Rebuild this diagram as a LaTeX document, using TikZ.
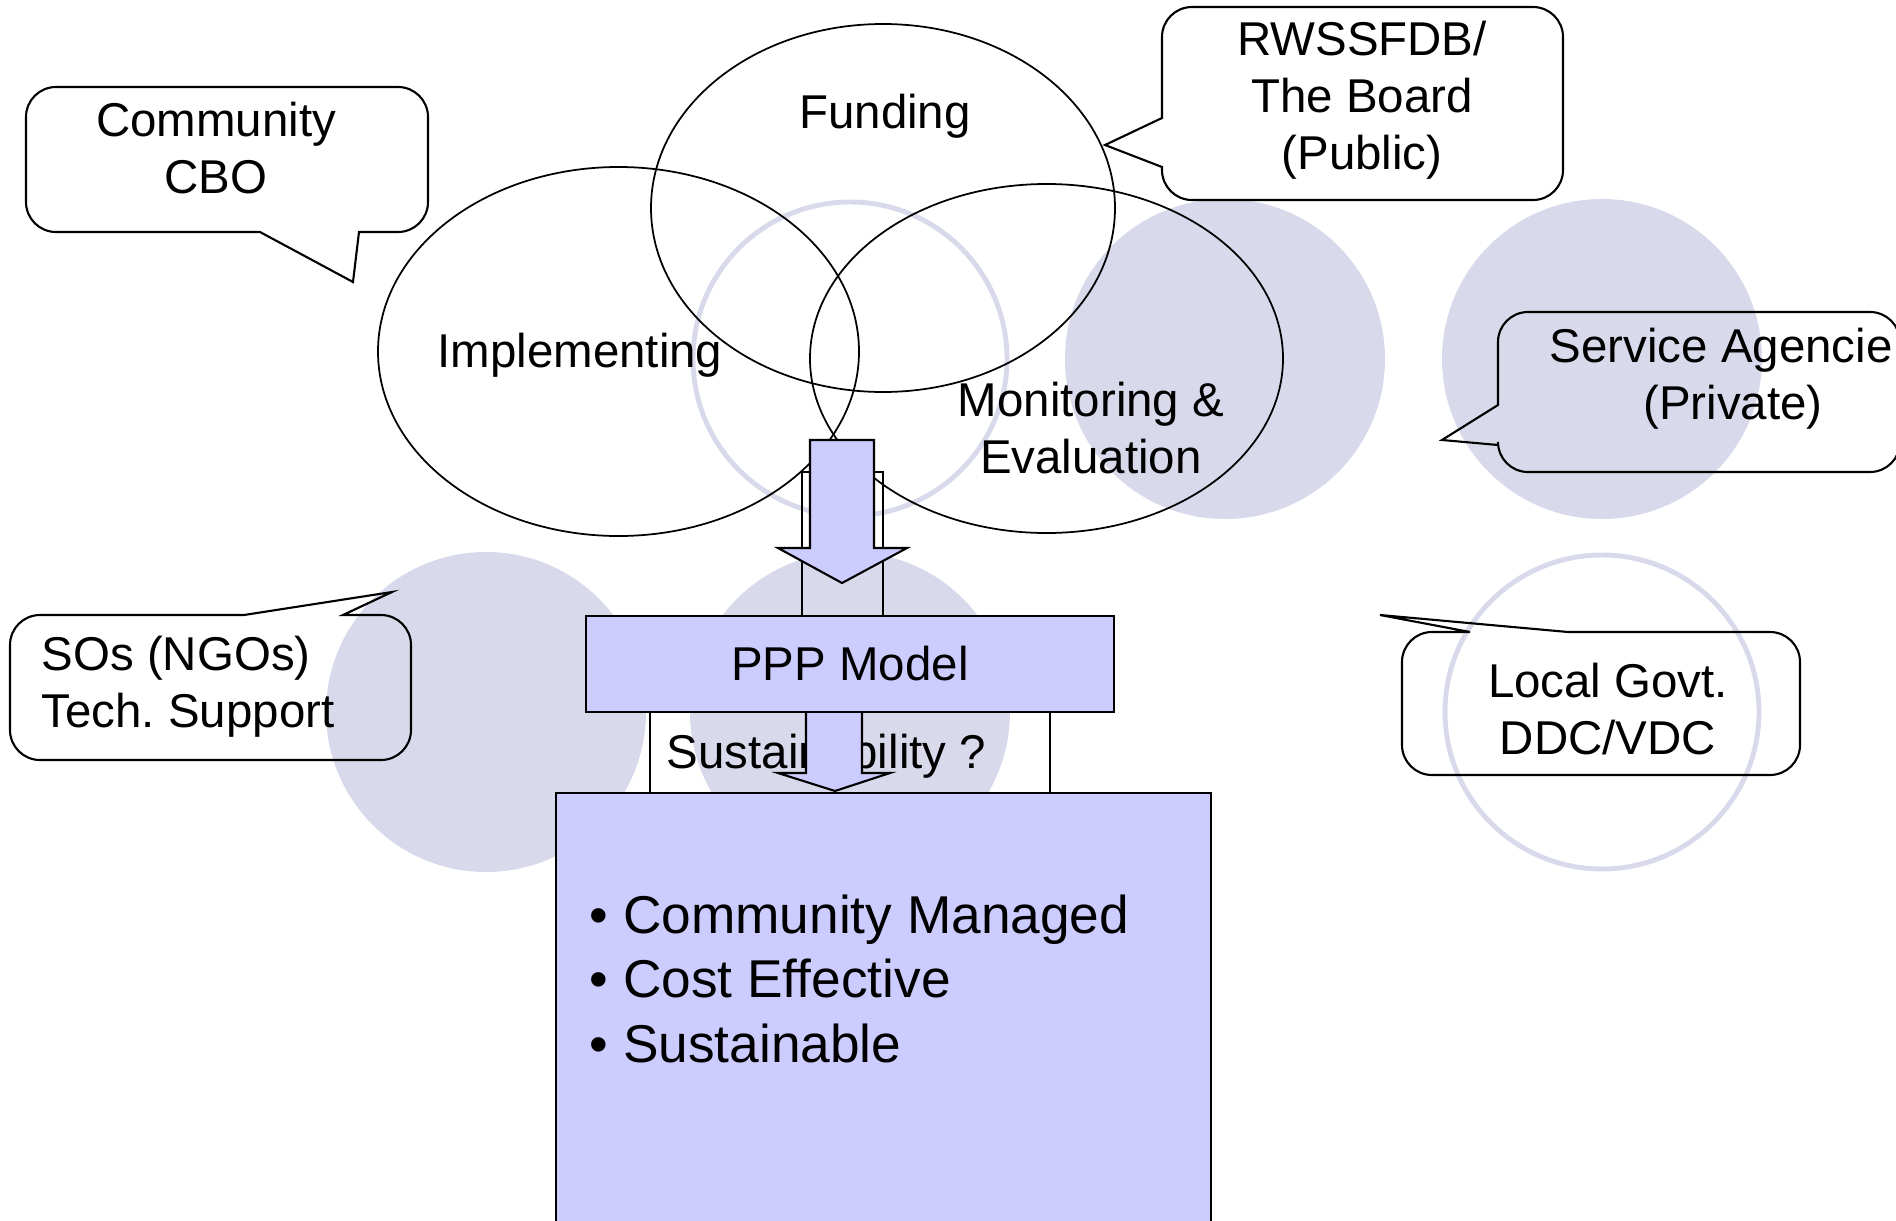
\documentclass[tikz,border=0pt]{standalone}
\usepackage{fontspec}
\setmainfont{Liberation Sans}
\frenchspacing
\definecolor{ringblue}{RGB}{217,217,236}
\definecolor{boxblue}{RGB}{204,204,255}
\begin{document}
\begin{tikzpicture}[
  txt/.style={inner sep=0pt, font=\fontsize{13.5}{16.2}\selectfont},
  ring/.style={draw=ringblue, line width=1.4pt},
  disc/.style={fill=ringblue},
  oval/.style={draw=black, line width=0.5pt},
  frame/.style={draw=black, line width=0.45pt},
  bubble/.style={draw=black, line width=0.6pt},
  block/.style={draw=black, line width=0.6pt, fill=boxblue},
]
\useasboundingbox (0,0) rectangle (18.96,-12.21);
\clip (0,0) rectangle (18.96,-12.21);

% background circles
\draw[ring] (8.50,-3.59) circle (1.57);
\fill[disc] (12.25,-3.59) circle (1.60);
\fill[disc] (16.02,-3.59) circle (1.60);
\fill[disc] (4.86,-7.12) circle (1.60);
\fill[disc] (8.50,-7.12) circle (1.60);
\draw[ring] (16.02,-7.12) circle (1.57);

% the three ovals
\draw[oval] (8.83,-2.08) ellipse (2.32 and 1.84);
\draw[oval] (6.185,-3.515) ellipse (2.405 and 1.845);
\draw[oval] (10.465,-3.585) ellipse (2.365 and 1.745);
\node (funding) [txt, anchor=base] at (8.85,-1.28) {Funding};
\node (implementing) [txt, anchor=base] at (5.80,-3.67) {Implementing};
\node (monitoring) [txt, anchor=base, align=center] at (10.91,-4.73) {Monitoring \&\\Evaluation};

% upper arrow
\draw[frame] (8.02,-4.72) rectangle (8.83,-6.30);
\draw[block] (8.10,-4.40) -- (8.74,-4.40) -- (8.74,-5.48) -- (9.07,-5.48)
  -- (8.42,-5.83) -- (7.78,-5.48) -- (8.10,-5.48) -- cycle;

% lower arrow
\draw[frame] (6.50,-6.90) rectangle (10.50,-8.10);
\node (sust) [txt, anchor=base] at (8.265,-7.68) {Sustainability ?};
\draw[block] (8.06,-6.90) -- (8.62,-6.90) -- (8.62,-7.73) -- (8.90,-7.73)
  -- (8.35,-7.91) -- (7.78,-7.73) -- (8.06,-7.73) -- cycle;

\node (ppp) [block, txt, minimum width=5.28cm, minimum height=0.96cm] at (8.50,-6.64) {PPP Model};

\node (result) [block, inner sep=0pt, minimum width=6.55cm, minimum height=4.60cm, anchor=north west] at (5.55,-7.92) {};
\node (bullets) [txt, anchor=base west, align=left, font=\fontsize{15.15}{18.35}\selectfont] at (5.89,-10.62)
  {\textbullet\ Community Managed\\\textbullet\ Cost Effective\\\textbullet\ Sustainable};

% callouts
\draw[bubble] (2.60,-2.32) [rounded corners=0.3cm] -- (0.26,-2.32) -- (0.26,-0.87) -- (4.28,-0.87)
  -- (4.28,-2.32) [sharp corners] -- (3.59,-2.32) -- (3.53,-2.82) -- cycle;
\node (cbo) [txt, anchor=base, align=center] at (2.16,-1.93) {Community\\CBO};

\draw[bubble] (11.62,-1.18) [rounded corners=0.3cm] -- (11.62,-0.07) -- (15.63,-0.07) -- (15.63,-2.00)
  -- (11.62,-2.00) [sharp corners] -- (11.62,-1.67) -- (11.05,-1.45) -- cycle;
\node (board) [txt, anchor=base, align=center] at (13.62,-1.69) {RWSSFDB/\\The Board\\(Public)};

\draw[bubble] (14.98,-4.05) [rounded corners=0.3cm] -- (14.98,-3.12) -- (19.00,-3.12) -- (19.00,-4.72)
  -- (14.98,-4.72) [sharp corners] -- (14.98,-4.45) -- (14.42,-4.40) -- cycle;
\node (agency) [txt, anchor=base, align=center] at (17.33,-4.19) {Service Agencie\phantom{s}\\(Private)};

\draw[bubble] (15.68,-6.32) [rounded corners=0.3cm] -- (18.00,-6.32) -- (18.00,-7.75) -- (14.02,-7.75)
  -- (14.02,-6.32) [sharp corners] -- (14.70,-6.32) -- (13.80,-6.15) -- cycle;
\node (govt) [txt, anchor=base, align=center] at (16.08,-7.54) {Local Govt.\\DDC/VDC};

\draw[bubble] (2.44,-6.15) [rounded corners=0.3cm] -- (0.10,-6.15) -- (0.10,-7.60) -- (4.11,-7.60)
  -- (4.11,-6.15) [sharp corners] -- (3.43,-6.15) -- (3.92,-5.92) -- cycle;
\node (sos) [txt, anchor=base west, align=left] at (0.41,-7.27) {SOs (NGOs)\\Tech. Support};
\end{tikzpicture}
\end{document}
